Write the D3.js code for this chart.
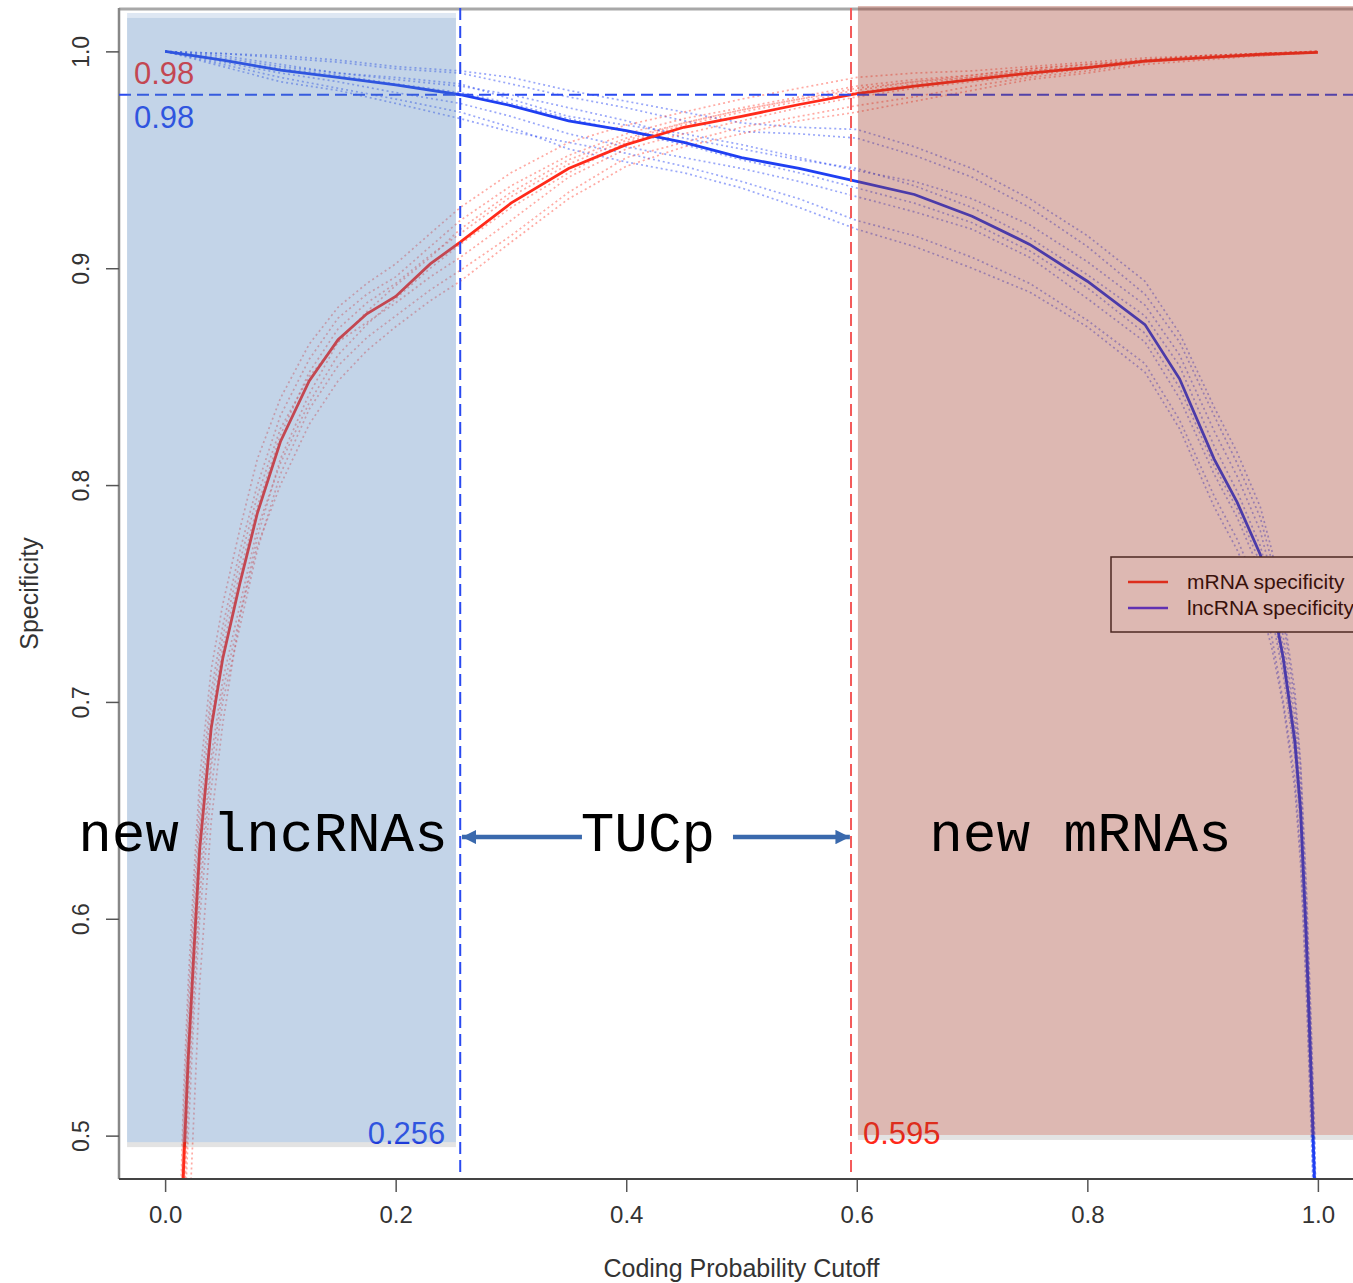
<!DOCTYPE html>
<html>
<head>
<meta charset="utf-8">
<script src="https://cdn.jsdelivr.net/npm/d3@7"></script>
<style>
  body { margin: 0; background: #fff; }
  svg { display: block; }
</style>
</head>
<body>
<div id="chart"></div>
<script>
// Specificity of mRNA / lncRNA classification vs coding probability cutoff

// red (mRNA) curves share this cutoff grid
const mrnaCutoffs = [0.012, 0.016, 0.02, 0.025, 0.03, 0.04, 0.05, 0.065, 0.08, 0.1, 0.125, 0.15, 0.175, 0.2, 0.23, 0.256,
    0.3, 0.35, 0.4, 0.45, 0.5, 0.55, 0.6, 0.65, 0.7, 0.75, 0.8, 0.85, 0.9, 0.95, 1.0];
const mrnaMean = [0.40, 0.485, 0.535, 0.585, 0.632, 0.688, 0.72, 0.755, 0.787, 0.82, 0.848, 0.867, 0.879, 0.887, 0.902, 0.912,
    0.93, 0.946, 0.957, 0.965, 0.970, 0.9755, 0.9805, 0.984, 0.987, 0.990, 0.9925, 0.9955, 0.997, 0.9986, 0.9995];
const mrnaRuns = [
    [0.43, 0.51, 0.56, 0.61, 0.655, 0.705, 0.735, 0.77, 0.80, 0.832, 0.858, 0.877, 0.888, 0.896, 0.91, 0.922, 0.938, 0.952, 0.962, 0.969, 0.974, 0.979, 0.984, 0.987, 0.989, 0.992, 0.994, 0.996, 0.998, 0.999, 1.0],
    [0.36, 0.45, 0.50, 0.555, 0.60, 0.66, 0.70, 0.735, 0.77, 0.805, 0.835, 0.855, 0.868, 0.878, 0.89, 0.899, 0.915, 0.935, 0.951, 0.958, 0.965, 0.970, 0.975, 0.979, 0.984, 0.988, 0.991, 0.995, 0.997, 0.998, 0.9995],
    [0.30, 0.38, 0.45, 0.51, 0.57, 0.645, 0.69, 0.74, 0.776, 0.812, 0.842, 0.866, 0.88, 0.892, 0.905, 0.918, 0.935, 0.95, 0.96, 0.967, 0.973, 0.978, 0.982, 0.986, 0.988, 0.991, 0.993, 0.996, 0.9975, 0.999, 1.0],
    [0.42, 0.50, 0.55, 0.60, 0.645, 0.70, 0.73, 0.765, 0.795, 0.826, 0.85, 0.866, 0.875, 0.884, 0.896, 0.905, 0.922, 0.942, 0.955, 0.962, 0.968, 0.974, 0.979, 0.983, 0.986, 0.989, 0.992, 0.995, 0.997, 0.998, 0.9995],
    [0.39, 0.47, 0.525, 0.575, 0.62, 0.675, 0.71, 0.745, 0.78, 0.81, 0.838, 0.86, 0.874, 0.886, 0.9, 0.911, 0.928, 0.944, 0.958, 0.966, 0.972, 0.977, 0.981, 0.985, 0.988, 0.991, 0.993, 0.996, 0.998, 0.999, 1.0],
    [0.44, 0.52, 0.57, 0.62, 0.665, 0.715, 0.745, 0.78, 0.812, 0.84, 0.865, 0.882, 0.893, 0.902, 0.916, 0.928, 0.944, 0.958, 0.966, 0.972, 0.978, 0.983, 0.988, 0.990, 0.991, 0.993, 0.995, 0.997, 0.998, 0.999, 1.0],
    [0.37, 0.46, 0.515, 0.565, 0.61, 0.67, 0.705, 0.74, 0.772, 0.80, 0.828, 0.848, 0.862, 0.873, 0.885, 0.894, 0.912, 0.932, 0.947, 0.956, 0.962, 0.968, 0.972, 0.977, 0.982, 0.987, 0.990, 0.994, 0.996, 0.998, 0.9995],
    [0.41, 0.49, 0.54, 0.59, 0.64, 0.692, 0.725, 0.76, 0.79, 0.823, 0.852, 0.872, 0.884, 0.893, 0.906, 0.916, 0.933, 0.948, 0.959, 0.967, 0.973, 0.978, 0.983, 0.986, 0.989, 0.992, 0.994, 0.996, 0.998, 0.999, 1.0]
];

// blue (lncRNA) curves share this cutoff grid
const lncCutoffs = [0, 0.05, 0.1, 0.15, 0.2, 0.256, 0.3, 0.35, 0.4, 0.45, 0.5, 0.55, 0.6, 0.65, 0.7, 0.75, 0.8, 0.85,
    0.88, 0.91, 0.93, 0.95, 0.96, 0.97, 0.98, 0.985, 0.99, 0.994, 0.997, 1.0];
const lncMean = [1.0, 0.996, 0.9913, 0.988, 0.9845, 0.98, 0.975, 0.968, 0.9635, 0.958, 0.951, 0.946, 0.940, 0.934, 0.924, 0.911, 0.894, 0.874,
    0.849, 0.812, 0.792, 0.768, 0.748, 0.72, 0.682, 0.65, 0.59, 0.53, 0.48, 0.40];
const lncRuns = [
    [1.0, 0.999, 0.997, 0.995, 0.992, 0.99, 0.985, 0.979, 0.974, 0.968, 0.963, 0.962, 0.96, 0.952, 0.942, 0.928, 0.91, 0.888, 0.866, 0.832, 0.81, 0.785, 0.765, 0.738, 0.70, 0.67, 0.61, 0.55, 0.50, 0.42],
    [1.0, 0.993, 0.986, 0.982, 0.976, 0.969, 0.963, 0.958, 0.953, 0.947, 0.94, 0.932, 0.922, 0.915, 0.905, 0.893, 0.876, 0.856, 0.83, 0.795, 0.775, 0.75, 0.73, 0.70, 0.665, 0.63, 0.57, 0.51, 0.46, 0.38],
    [1.0, 0.998, 0.994, 0.99, 0.987, 0.984, 0.98, 0.974, 0.968, 0.96, 0.955, 0.95, 0.946, 0.938, 0.928, 0.914, 0.897, 0.878, 0.855, 0.818, 0.797, 0.772, 0.752, 0.725, 0.688, 0.655, 0.597, 0.535, 0.485, 0.41],
    [1.0, 0.995, 0.99, 0.986, 0.981, 0.976, 0.97, 0.962, 0.956, 0.951, 0.946, 0.94, 0.933, 0.926, 0.918, 0.905, 0.886, 0.866, 0.84, 0.805, 0.785, 0.76, 0.74, 0.712, 0.675, 0.642, 0.58, 0.52, 0.47, 0.39],
    [1.0, 0.997, 0.993, 0.99, 0.988, 0.985, 0.978, 0.97, 0.966, 0.962, 0.957, 0.951, 0.945, 0.94, 0.932, 0.92, 0.903, 0.883, 0.86, 0.825, 0.804, 0.779, 0.758, 0.73, 0.693, 0.66, 0.60, 0.54, 0.49, 0.41],
    [1.0, 0.994, 0.988, 0.983, 0.978, 0.972, 0.965, 0.955, 0.949, 0.944, 0.937, 0.928, 0.918, 0.91, 0.9, 0.889, 0.873, 0.852, 0.826, 0.79, 0.77, 0.745, 0.725, 0.698, 0.66, 0.625, 0.565, 0.505, 0.455, 0.37],
    [1.0, 0.999, 0.998, 0.996, 0.993, 0.991, 0.988, 0.982, 0.977, 0.972, 0.967, 0.965, 0.964, 0.956, 0.946, 0.932, 0.915, 0.894, 0.87, 0.836, 0.815, 0.79, 0.77, 0.742, 0.705, 0.672, 0.615, 0.555, 0.505, 0.43],
    [1.0, 0.996, 0.992, 0.989, 0.985, 0.981, 0.976, 0.969, 0.963, 0.957, 0.95, 0.944, 0.937, 0.93, 0.921, 0.908, 0.891, 0.87, 0.845, 0.809, 0.789, 0.764, 0.744, 0.716, 0.678, 0.645, 0.585, 0.525, 0.475, 0.395]
];

const xTicks = [0, 0.2, 0.4, 0.6, 0.8, 1.0];
const yTicks = [0.5, 0.6, 0.7, 0.8, 0.9, 1.0];
const targetSpec = 0.98;
const lncCut = 0.256;
const mrnaCut = 0.595;

// shaded boxes pasted over the plot (axis units)
const lncBox = { x0: -0.033, x1: 0.2523, y0: 0.497, y1: 1.0154 };
const mrnaBox = { x0: 0.601, x1: 1.07, y0: 0.5003, y1: 1.0209 };
const annoY = 0.6313;
const arrowY = 0.6377;

const width = 1353, height = 1283;
const margin = { left: 119, top: 8, bottom: 1179 };
const red = '#ff2a1a', blue = '#1f3ff2';

const svg = d3.select('#chart').append('svg')
    .attr('width', width)
    .attr('height', height)
    .style('font-family', '"Liberation Sans", Arial, Helvetica, sans-serif');

const x = d3.scaleLinear().domain([-0.04, 1.04]).range([margin.left, 1364]);
const y = d3.scaleLinear().domain([0.48, 1.02]).range([margin.bottom, margin.top]);

svg.append('defs').append('clipPath').attr('id', 'plot-clip')
    .append('rect')
    .attr('x', x(-0.04)).attr('y', y(1.02))
    .attr('width', x(1.04) - x(-0.04)).attr('height', y(0.48) - y(1.02));

// plot box
svg.append('line').attr('x1', x(-0.04)).attr('x2', width).attr('y1', y(1.02) + 1).attr('y2', y(1.02) + 1)
    .attr('stroke', '#a8a8a8').attr('stroke-width', 3);
svg.append('line').attr('x1', x(-0.04)).attr('x2', x(-0.04)).attr('y1', y(1.02)).attr('y2', y(0.48))
    .attr('stroke', '#888').attr('stroke-width', 2.5);

const plot = svg.append('g').attr('clip-path', 'url(#plot-clip)');

const mrnaLine = d3.line().x((d, i) => x(mrnaCutoffs[i])).y(d => y(d));
const lncLine = d3.line().x((d, i) => x(lncCutoffs[i])).y(d => y(d));

// replicate runs, dotted
plot.selectAll('.lnc-run').data(lncRuns).enter().append('path')
    .attr('class', 'lnc-run')
    .attr('d', lncLine)
    .attr('fill', 'none')
    .attr('stroke', blue)
    .attr('stroke-opacity', 0.45)
    .attr('stroke-width', 1.7)
    .attr('stroke-dasharray', '2,3');

plot.selectAll('.mrna-run').data(mrnaRuns).enter().append('path')
    .attr('class', 'mrna-run')
    .attr('d', mrnaLine)
    .attr('fill', 'none')
    .attr('stroke', red)
    .attr('stroke-opacity', 0.4)
    .attr('stroke-width', 1.7)
    .attr('stroke-dasharray', '2,3');

// mean curves
plot.append('path').attr('d', lncLine(lncMean))
    .attr('fill', 'none').attr('stroke', blue).attr('stroke-width', 2.8);
plot.append('path').attr('d', mrnaLine(mrnaMean))
    .attr('fill', 'none').attr('stroke', red).attr('stroke-width', 2.8);

// threshold lines
plot.append('line')
    .attr('x1', x(-0.04)).attr('x2', x(1.04))
    .attr('y1', y(targetSpec)).attr('y2', y(targetSpec))
    .attr('stroke', '#2a4af0').attr('stroke-width', 2).attr('stroke-dasharray', '12,6');
plot.append('line')
    .attr('x1', x(lncCut)).attr('x2', x(lncCut))
    .attr('y1', y(1.02)).attr('y2', y(0.48))
    .attr('stroke', '#2a4af0').attr('stroke-width', 2).attr('stroke-dasharray', '12,6');
plot.append('line')
    .attr('x1', x(mrnaCut)).attr('x2', x(mrnaCut))
    .attr('y1', y(1.02)).attr('y2', y(0.48))
    .attr('stroke', '#f45a5a').attr('stroke-width', 2).attr('stroke-dasharray', '12,6');

// threshold values
const valueText = [
    { t: targetSpec.toFixed(2), px: 134, py: 84, color: red, anchor: 'start' },
    { t: targetSpec.toFixed(2), px: 134, py: 128, color: blue, anchor: 'start' },
    { t: String(lncCut), px: x(lncCut) - 15, py: 1144, color: blue, anchor: 'end' },
    { t: String(mrnaCut), px: x(mrnaCut) + 12, py: 1144, color: red, anchor: 'start' }
];
svg.selectAll('.val').data(valueText).enter().append('text')
    .attr('class', 'val')
    .attr('x', d => d.px).attr('y', d => d.py)
    .attr('text-anchor', d => d.anchor)
    .style('font-size', '31px')
    .style('fill', d => d.color)
    .text(d => d.t);

// axes
const xAxis = svg.append('g')
    .attr('transform', `translate(0,${margin.bottom})`)
    .call(d3.axisBottom(x).tickValues(xTicks).tickFormat(d3.format('.1f')).tickSize(13).tickPadding(14));
xAxis.select('.domain').remove();
xAxis.append('line').attr('x1', x(-0.04)).attr('x2', width).attr('stroke', '#444').attr('stroke-width', 2);
xAxis.selectAll('.tick line').attr('stroke', '#555').attr('stroke-width', 1.5);
xAxis.selectAll('.tick text').style('font-size', '24px').style('fill', '#333')
    .style('font-family', '"Liberation Sans", Arial, sans-serif');

const yAxis = svg.append('g')
    .attr('transform', `translate(${margin.left},0)`)
    .call(d3.axisLeft(y).tickValues(yTicks).tickFormat(d3.format('.1f')).tickSize(13));
yAxis.select('.domain').remove();
yAxis.selectAll('.tick line').attr('stroke', '#555').attr('stroke-width', 1.5);
yAxis.selectAll('.tick text')
    .attr('x', 0).attr('dy', '0.35em')
    .attr('transform', 'translate(-38,0) rotate(-90)')
    .attr('text-anchor', 'middle')
    .style('font-size', '23px').style('fill', '#333')
    .style('font-family', '"Liberation Sans", Arial, sans-serif');

svg.append('text')
    .attr('x', (x(-0.04) + x(1.04)) / 2).attr('y', 1277)
    .attr('text-anchor', 'middle')
    .style('font-size', '25px').style('fill', '#333')
    .text('Coding Probability Cutoff');

svg.append('text')
    .attr('transform', `translate(38,${(y(0.48) + y(1.02)) / 2}) rotate(-90)`)
    .attr('text-anchor', 'middle')
    .style('font-size', '25px').style('fill', '#333')
    .text('Specificity');

// legend (white background, sits under the shaded box)
const legend = svg.append('g').attr('transform', 'translate(1111,557)');
legend.append('rect').attr('width', 260).attr('height', 75)
    .attr('fill', '#fff').attr('stroke', '#222').attr('stroke-width', 1.5);
const legendItems = [
    { label: 'mRNA specificity', color: red },
    { label: 'lncRNA specificity', color: '#4030ff' }
];
legendItems.forEach((d, i) => {
    legend.append('line')
        .attr('x1', 17).attr('x2', 57).attr('y1', 25 + i * 26).attr('y2', 25 + i * 26)
        .attr('stroke', d.color).attr('stroke-width', 2.5);
    legend.append('text')
        .attr('x', 76).attr('y', 32 + i * 26)
        .style('font-size', '21px').style('fill', '#000')
        .text(d.label);
});

// shaded region boxes
function shade(b, color, alpha, topStrip) {
    const g = svg.append('g');
    if (topStrip) {
        g.append('rect')
            .attr('x', x(b.x0)).attr('y', y(b.y1) - 5)
            .attr('width', x(b.x1) - x(b.x0)).attr('height', 5)
            .attr('fill', color).attr('fill-opacity', alpha * 0.55);
    }
    g.append('rect')
        .attr('x', x(b.x0)).attr('y', y(b.y1))
        .attr('width', x(b.x1) - x(b.x0)).attr('height', y(b.y0) - y(b.y1))
        .attr('fill', color).attr('fill-opacity', alpha);
    g.append('rect')
        .attr('x', x(b.x0)).attr('y', y(b.y0))
        .attr('width', x(b.x1) - x(b.x0)).attr('height', 5)
        .attr('fill', '#000').attr('fill-opacity', 0.11);
}
shade(lncBox, '#4f81bd', 0.34, true);
shade(mrnaBox, '#9e3423', 0.35, false);

// region labels and arrows
const annoFont = '"Courier New", "Liberation Mono", monospace';
const annotations = [
    { t: 'new lncRNAs', cx: 0.0849 },
    { t: 'TUCp', cx: 0.4188 },
    { t: 'new mRNAs', cx: 0.794 }
];
svg.selectAll('.anno').data(annotations).enter().append('text')
    .attr('class', 'anno')
    .attr('x', d => x(d.cx)).attr('y', y(annoY))
    .attr('text-anchor', 'middle')
    .style('font-family', annoFont)
    .style('font-size', '56px')
    .style('fill', '#000')
    .text(d => d.t);

const arrowColor = '#3a69ad';
svg.append('defs').append('marker')
    .attr('id', 'head')
    .attr('viewBox', '0 0 10 10')
    .attr('refX', 10).attr('refY', 5)
    .attr('markerWidth', 3.2).attr('markerHeight', 3.2)
    .attr('orient', 'auto')
    .append('path').attr('d', 'M0,0L10,5L0,10Z').attr('fill', arrowColor);

const arrows = [
    { from: 0.3616, to: lncCut + 0.0015 },
    { from: 0.4926, to: mrnaCut - 0.001 }
];
svg.selectAll('.arrow').data(arrows).enter().append('line')
    .attr('class', 'arrow')
    .attr('x1', d => x(d.from)).attr('x2', d => x(d.to))
    .attr('y1', y(arrowY)).attr('y2', y(arrowY))
    .attr('stroke', arrowColor).attr('stroke-width', 4.5)
    .attr('marker-end', 'url(#head)');
</script>
</body>
</html>
